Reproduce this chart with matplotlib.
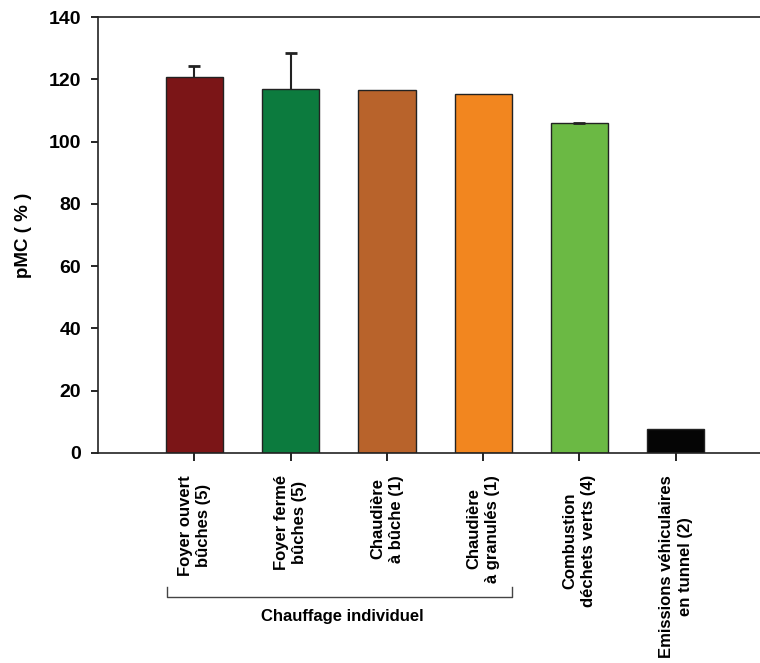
import numpy as np
import matplotlib.pyplot as plt
from matplotlib.transforms import blended_transform_factory

plt.rcParams['font.family'] = ['Liberation Sans', 'DejaVu Sans']
plt.rcParams['font.weight'] = 'bold'

# data
categories = ['Foyer ouvert\nbûches (5)', 'Foyer fermé\nbûches (5)', 'Chaudière\nà bûche (1)',
              'Chaudière\nà granulés (1)', 'Combustion\ndéchets verts (4)',
              'Emissions véhiculaires\nen tunnel (2)']
pmc = [120.8, 116.9, 116.6, 115.4, 105.9, 7.8]
err_up = [3.6, 11.6, 0.0, 0.0, 0.2, 0.0]
colors = ['#7b1517', '#0c7b3e', '#b8632b', '#f2861f', '#6bb944', '#050505']
group_label = 'Chauffage individuel'

fig = plt.figure(figsize=(7.6, 6.63), dpi=100)
ax = fig.add_axes([0.129, 0.317, 0.871, 0.657])

x = np.arange(len(pmc))
ax.bar(x, pmc, width=0.595, color=colors, edgecolor='#222222', linewidth=1.0, zorder=2)

# upper error bars only (no cap at the bar top)
has_err = np.array(err_up) > 0
eb = ax.errorbar(x[has_err], np.array(pmc)[has_err],
                 yerr=[np.zeros(has_err.sum()), np.array(err_up)[has_err]],
                 fmt='none', ecolor='#222222', elinewidth=1.5, capsize=4.5, capthick=2, zorder=3)
eb[1][0].set_visible(False)

ax.set_xlim(-1.0, 5.875)
ax.set_ylim(0, 140)
ax.set_yticks(np.arange(0, 141, 20))
ax.tick_params(axis='y', labelsize=14, length=5, width=1.2, direction='out', pad=7)
ax.tick_params(axis='x', length=6, width=1.2, direction='out', pad=10)
ax.set_xticks(x)
ax.set_xticklabels(categories, rotation=90, ha='center', va='top', multialignment='center',
                   fontsize=12, linespacing=1.3)
for lab in ax.get_yticklabels():
    lab.set_fontweight('bold')
ax.spines['right'].set_visible(False)
for s in ['left', 'bottom', 'top']:
    ax.spines[s].set_linewidth(1.2)
    ax.spines[s].set_color('#222222')

ax.set_ylabel('pMC ( % )', fontsize=13.5, fontweight='bold', labelpad=12)

# bracket for the individual heating group
tr = blended_transform_factory(ax.transData, ax.transAxes)
bx = [-0.287, -0.287, 3.296, 3.296]
by = [-0.307, -0.33, -0.33, -0.307]
ax.plot(bx, by, color='#444444', lw=1.0, transform=tr, clip_on=False)
ax.text(1.54, -0.375, group_label, transform=tr, ha='center', va='center',
        fontsize=12, fontweight='bold')

fig.savefig('out.png', dpi=100, facecolor='white')
